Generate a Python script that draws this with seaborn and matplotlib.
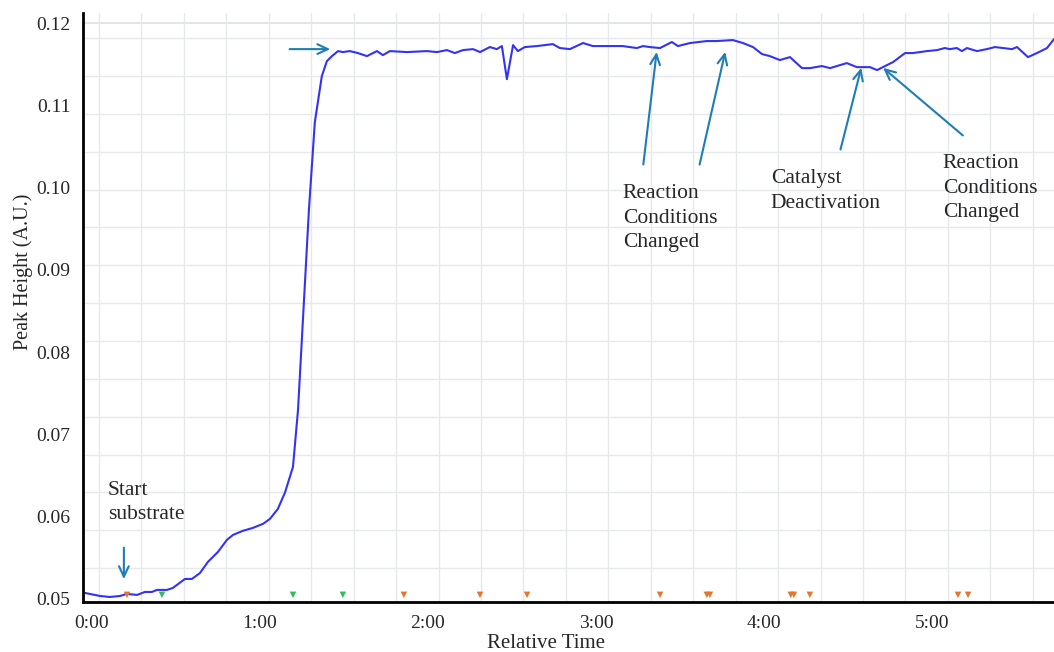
import numpy as np
import pandas as pd
import matplotlib
matplotlib.use("Agg")
import matplotlib.pyplot as plt
import seaborn as sns
from matplotlib.ticker import FixedLocator, FuncFormatter

# relative time in minutes, peak height in A.U.
time_min = [-2.5, 2.9, 6.4, 10.0, 12.5, 16.1, 18.9, 21.4, 23.2, 26.8, 28.9, 33.2, 35.7,
            38.6, 41.4, 45.0, 48.2, 50.4, 53.9, 57.5, 61.1, 63.6, 66.4, 68.9, 70.7,
            71.8, 73.6, 77.5, 79.6, 82.1, 83.9, 85.7, 87.9, 89.6, 92.1, 95.0, 98.2,
            101.8, 103.9, 106.4, 112.5, 119.6, 123.2, 126.8, 129.6, 132.5, 136.1,
            138.6, 142.1, 144.6, 146.4, 148.2, 150.4, 152.1, 154.6, 158.9, 164.6,
            167.1, 170.7, 175.4, 178.9, 185.0, 189.6, 194.6, 196.8, 199.3, 202.9,
            207.1, 209.3, 213.6, 219.6, 223.2, 228.9, 232.5, 236.1, 239.3, 242.1,
            245.7, 249.3, 253.6, 256.4, 260.7, 263.6, 269.6, 273.2, 277.9, 280.4,
            282.5, 286.1, 290.4, 293.2, 298.2, 301.8, 304.6, 306.4, 308.9, 310.7,
            312.5, 316.1, 319.6, 322.5, 328.6, 330.4, 334.3, 337.5, 341.1, 343.6]
peak_height = [0.05073, 0.05036, 0.05024, 0.05036, 0.05061, 0.05049, 0.05085, 0.05085,
               0.05110, 0.05110, 0.05134, 0.05243, 0.05243, 0.05316, 0.05450, 0.05572,
               0.05718, 0.05779, 0.05828, 0.05864, 0.05913, 0.05974, 0.06095, 0.06290,
               0.06485, 0.06607, 0.07301, 0.09736, 0.10795, 0.11355, 0.11537, 0.11598,
               0.11659, 0.11647, 0.11659, 0.11635, 0.11598, 0.11659, 0.11610, 0.11659,
               0.11647, 0.11659, 0.11647, 0.11671, 0.11635, 0.11671, 0.11683, 0.11647,
               0.11708, 0.11683, 0.11720, 0.11318, 0.11732, 0.11659, 0.11708, 0.11720,
               0.11744, 0.11696, 0.11683, 0.11757, 0.11720, 0.11720, 0.11720, 0.11696,
               0.11720, 0.11708, 0.11696, 0.11769, 0.11720, 0.11757, 0.11781, 0.11781,
               0.11793, 0.11757, 0.11708, 0.11623, 0.11598, 0.11550, 0.11586, 0.11452,
               0.11452, 0.11477, 0.11452, 0.11513, 0.11464, 0.11464, 0.11428, 0.11464,
               0.11525, 0.11635, 0.11635, 0.11659, 0.11671, 0.11696, 0.11683, 0.11696,
               0.11659, 0.11696, 0.11659, 0.11683, 0.11708, 0.11683, 0.11708, 0.11586,
               0.11635, 0.11696, 0.11805]

# sample event markers along the baseline
orange_events = [12.5, 111.4, 138.6, 155.4, 202.9, 219.6, 220.7, 249.6, 250.7, 256.4, 309.3, 312.9]
green_events = [25.0, 71.8, 89.6]
marker_level = 0.0505

x_ticks = [0, 60, 120, 180, 240, 300]
y_ticks = [0.05, 0.06, 0.07, 0.08, 0.09, 0.10, 0.11, 0.12]

sns.set_style("white")
plt.rcParams["font.family"] = ["Liberation Serif", "DejaVu Serif"]

df = pd.DataFrame({"time": time_min, "height": peak_height})
ev = pd.DataFrame({"time": orange_events + green_events,
                   "kind": ["o"] * len(orange_events) + ["g"] * len(green_events)})
ev["y"] = marker_level

fig = plt.figure(figsize=(10.54, 6.52), dpi=100)
ax = fig.add_axes([83 / 1054, 50 / 652, 971 / 1054, 589 / 652])

sns.lineplot(data=df, x="time", y="height", color="#3333f5", linewidth=1.5, ax=ax)
sns.scatterplot(data=ev, x="time", y="y", hue="kind", palette={"o": "#e8742a", "g": "#2fbf5a"},
                marker="v", s=22, edgecolor="none", legend=False, ax=ax, zorder=5)

ax.set_xlim(-3.2, 343.6)
ax.set_ylim(0.04963, 0.12122)

# the grid of the original software does not line up with the labelled ticks
grid_x = [2.5 + 15.16 * k for k in range(23)]
grid_y = [0.11817 - 0.004602 * k for k in range(15)]
ax.xaxis.set_minor_locator(FixedLocator(grid_x))
ax.yaxis.set_minor_locator(FixedLocator(grid_y))
ax.grid(which="minor", color="#e6e9ec", linewidth=1)
ax.grid(which="major", visible=False)
ax.axhline(0.12, color="#dde1e4", linewidth=1.2, zorder=0)

ax.set_xticks(x_ticks)
ax.xaxis.set_major_formatter(FuncFormatter(lambda v, p: f"{int(v // 60)}:{int(v % 60):02d}"))
ax.set_yticks(y_ticks)
ax.yaxis.set_major_formatter(FuncFormatter(lambda v, p: f"{v:.2f}"))
ax.tick_params(which="major", length=3, color="#999999", labelsize=14, pad=6)
ax.tick_params(which="minor", length=3, color="#cccccc")

for side in ["top", "right"]:
    ax.spines[side].set_visible(False)
for side in ["left", "bottom"]:
    ax.spines[side].set_color("black")
    ax.spines[side].set_linewidth(2)

ax.set_xlabel("Relative Time", fontsize=15)
ax.set_ylabel("Peak Height (A.U.)", fontsize=14.5)
ax.xaxis.set_label_coords(0.477, -0.054)
ax.yaxis.set_label_coords(-0.052, 0.56)

arrow = dict(arrowstyle="->,head_length=0.75,head_width=0.35", color="#1f7db5", lw=1.5)
ax.annotate("", xy=(11.4, 0.05207), xytext=(11.4, 0.05657), arrowprops=arrow)
ax.annotate("", xy=(86.1, 0.11683), xytext=(69.6, 0.11683), arrowprops=arrow)
ax.annotate("", xy=(201.8, 0.11683), xytext=(196.8, 0.10247), arrowprops=arrow)
ax.annotate("", xy=(226.4, 0.11683), xytext=(216.8, 0.10247), arrowprops=arrow)
ax.annotate("", xy=(275.0, 0.11489), xytext=(267.1, 0.1043), arrowprops=arrow)
ax.annotate("", xy=(281.8, 0.11477), xytext=(311.8, 0.10612), arrowprops=arrow)

txt = dict(fontsize=15.5, va="top", ha="left", linespacing=1.4)
ax.text(5.7, 0.06436, "Start\nsubstrate", **txt)
ax.text(189.6, 0.10040, "Reaction\nConditions\nChanged", **txt)
ax.text(242.5, 0.10222, "Catalyst\nDeactivation", **txt)
ax.text(303.9, 0.10405, "Reaction\nConditions\nChanged", **txt)

fig.savefig("out.png", dpi=100)
